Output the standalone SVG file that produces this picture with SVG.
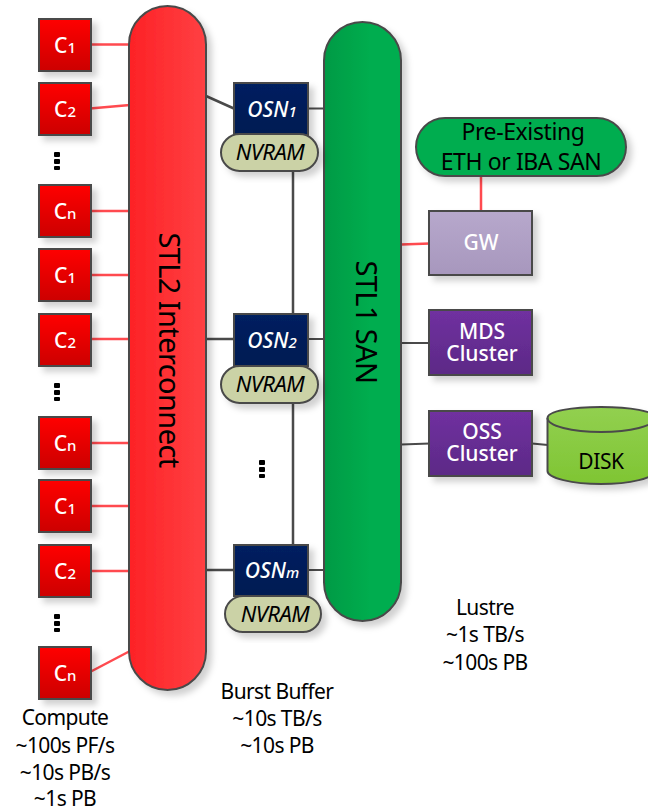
<svg xmlns="http://www.w3.org/2000/svg" width="648" height="808" viewBox="0 0 648 808">
<style>
text{font-family:"Noto Sans","Open Sans","Liberation Sans",sans-serif;text-anchor:middle;fill:#000}
.sh{filter:url(#shadow)}
.box{stroke:#4a4a4a;stroke-width:2}
.w{fill:#fff}
.cl{font-size:21px;fill:#fff;font-weight:500}
.sub{font-size:15px}
.osn{font-size:21px;font-style:italic;fill:#fff;font-weight:500}
.nv{font-size:22px;font-style:italic;letter-spacing:-.5px}
.lab{font-size:21px;letter-spacing:-.6px}
.red{stroke:#ff4a4f;stroke-width:2.5;fill:none}
.gr{stroke:#4a4a4a;stroke-width:2;fill:none}
.gr3{stroke:#4a4a4a;stroke-width:2.5;fill:none}
.cbox{fill:url(#cg)}
.nvb{fill:#cbd2a6}
.pur{fill:url(#pg)}
</style>
<defs>
<filter id="shadow" x="-20%" y="-20%" width="150%" height="150%"><feDropShadow dx="5" dy="5" stdDeviation="3" flood-color="#000" flood-opacity=".18"/></filter>
<linearGradient id="cg" x1="0" y1="0" x2="0" y2="1"><stop offset="0" stop-color="#ff0000"/><stop offset="1" stop-color="#cc0000"/></linearGradient>
<linearGradient id="rg" x1="0" y1="0" x2="1" y2="0"><stop offset="0" stop-color="#fd2226"/><stop offset="1" stop-color="#ff4043"/></linearGradient>
<linearGradient id="gg" x1="0" y1="0" x2="1" y2="0"><stop offset="0" stop-color="#009a44"/><stop offset=".6" stop-color="#00ad4f"/><stop offset="1" stop-color="#00ad4f"/></linearGradient>
<linearGradient id="ng" x1="0" y1="0" x2="0" y2="1"><stop offset="0" stop-color="#002060"/><stop offset="1" stop-color="#001a52"/></linearGradient>
<linearGradient id="pg" x1="0" y1="0" x2="0" y2="1"><stop offset="0" stop-color="#7030a0"/><stop offset="1" stop-color="#5c2a86"/></linearGradient>
<linearGradient id="gw" x1="0" y1="0" x2="0" y2="1"><stop offset="0" stop-color="#b7a8cc"/><stop offset="1" stop-color="#a797bd"/></linearGradient>
<linearGradient id="dg" x1="0" y1="0" x2="0" y2="1"><stop offset="0" stop-color="#92d050"/><stop offset="1" stop-color="#7fc533"/></linearGradient>
</defs>

<g id="connectors">
<path class="red" d="M90 44.500H130M90 108.500L130 105M90 211H130M90 275H130M90 339H130M90 443H130M90 506H130M90 571H130M90 672L130 651"/>
<path class="gr3" d="M206 96L235 109M206 339H235M206 570H235"/>
<path class="gr" d="M308 108.500H325M308 339H325M308 570H325M401 343H430M401 444.500L430 443.500M532 443.500L548 445"/>
<path class="gr3" d="M293 171V315M293 403V545"/>
<path class="red" d="M401 244.500L430 243.500M481 176V212"/>
</g>

<g id="stl2"><rect class="box sh" x="129" y="6" width="77" height="684" rx="38.500" fill="url(#rg)"/>
<text transform="translate(168 350) rotate(90)" y="9" font-size="29" letter-spacing="-.6">STL2 Interconnect</text></g>
<g id="stl1"><rect class="box sh" x="324" y="22" width="77" height="599" rx="38.500" fill="url(#gg)"/>
<text transform="translate(365 322) rotate(90)" y="9" font-size="29" letter-spacing="-.6">STL1 SAN</text></g>

<g id="c1a"><rect class="box sh cbox" x="39" y="19" width="52" height="52"/><text class="cl" x="65" y="53">C<tspan class="sub">1</tspan></text></g>
<g id="c2a"><rect class="box sh cbox" x="39" y="83" width="52" height="52"/><text class="cl" x="65" y="117">C<tspan class="sub">2</tspan></text></g>
<g id="cna"><rect class="box sh cbox" x="39" y="185" width="52" height="52"/><text class="cl" x="65" y="219">C<tspan class="sub">n</tspan></text></g>
<g id="c1b"><rect class="box sh cbox" x="39" y="249" width="52" height="52"/><text class="cl" x="65" y="283">C<tspan class="sub">1</tspan></text></g>
<g id="c2b"><rect class="box sh cbox" x="39" y="314" width="52" height="52"/><text class="cl" x="65" y="348">C<tspan class="sub">2</tspan></text></g>
<g id="cnb"><rect class="box sh cbox" x="39" y="417" width="52" height="52"/><text class="cl" x="65" y="451">C<tspan class="sub">n</tspan></text></g>
<g id="c1c"><rect class="box sh cbox" x="39" y="480" width="52" height="52"/><text class="cl" x="65" y="514">C<tspan class="sub">1</tspan></text></g>
<g id="c2c"><rect class="box sh cbox" x="39" y="545" width="52" height="52"/><text class="cl" x="65" y="579">C<tspan class="sub">2</tspan></text></g>
<g id="cnc"><rect class="box sh cbox" x="39" y="647" width="52" height="52"/><text class="cl" x="65" y="681">C<tspan class="sub">n</tspan></text></g>

<g id="dots" fill="#000">
<rect x="54" y="152" width="6" height="5" rx="1"/><rect x="54" y="159" width="6" height="5" rx="1"/><rect x="54" y="166" width="6" height="4" rx="1"/>
<rect x="54" y="383" width="6" height="5" rx="1"/><rect x="54" y="390" width="6" height="5" rx="1"/><rect x="54" y="397" width="6" height="4" rx="1"/>
<rect x="54" y="614" width="6" height="5" rx="1"/><rect x="54" y="621" width="6" height="5" rx="1"/><rect x="54" y="628" width="6" height="4" rx="1"/>
<rect x="259" y="460" width="6" height="5" rx="1"/><rect x="259" y="467" width="6" height="5" rx="1"/><rect x="259" y="474" width="6" height="4" rx="1"/>
</g>

<g id="osn1"><rect class="box sh" x="234" y="83" width="74" height="52" fill="url(#ng)"/><text class="osn" x="272" y="117">OSN<tspan class="sub">1</tspan></text></g>
<g id="nvram1"><rect class="box sh nvb" x="221" y="134" width="97" height="37" rx="18.500"/><text class="nv" x="270" y="160">NVRAM</text></g>
<g id="osn2"><rect class="box sh" x="234" y="314" width="74" height="52" fill="url(#ng)"/><text class="osn" x="272" y="348">OSN<tspan class="sub">2</tspan></text></g>
<g id="nvram2"><rect class="box sh nvb" x="221" y="366" width="97" height="37" rx="18.500"/><text class="nv" x="270" y="392">NVRAM</text></g>
<g id="osnm"><rect class="box sh" x="234" y="545" width="74" height="51" fill="url(#ng)"/><text class="osn" x="272" y="578">OSN<tspan class="sub">m</tspan></text></g>
<g id="nvramm"><rect class="box sh nvb" x="225" y="596" width="96" height="36" rx="18"/><text class="nv" x="275" y="622">NVRAM</text></g>

<g id="preexisting"><rect class="box sh" x="416" y="118" width="210" height="58" rx="29" fill="#00ad4f"/><text x="523" y="140" font-size="23" letter-spacing="-.4">Pre-Existing</text><text x="521" y="170" font-size="23" letter-spacing="-.4">ETH or IBA SAN</text></g>
<g id="gw"><rect class="box sh" x="429" y="211" width="103" height="64" fill="url(#gw)"/><text class="cl" x="481" y="250">GW</text></g>
<g id="mds"><rect class="box sh pur" x="429" y="310" width="103" height="65"/><text class="cl" x="482" y="339">MDS</text><text class="cl" x="482" y="361">Cluster</text></g>
<g id="oss"><rect class="box sh pur" x="429" y="411" width="103" height="65"/><text class="cl" x="482" y="439">OSS</text><text class="cl" x="482" y="461">Cluster</text></g>
<g id="disk"><path class="box sh" d="M547.500 418V471C547.500 478 572 484 601 484S655 478 655 471V418C655 411 630 407 601 407S547.500 411 547.500 418Z" fill="url(#dg)"/><path class="box" fill="none" d="M547.500 418C547.500 426 572 432 601 432S655 426 655 418" /><text x="601" y="469" font-size="21" letter-spacing="-.4">DISK</text></g>

<g id="labels">
<text class="lab" x="65" y="725">Compute</text><text class="lab" x="65" y="753">~100s PF/s</text><text class="lab" x="65" y="780">~10s PB/s</text><text class="lab" x="65" y="806">~1s PB</text>
<text class="lab" x="277" y="699">Burst Buffer</text><text class="lab" x="277" y="726">~10s TB/s</text><text class="lab" x="277" y="753">~10s PB</text>
<text class="lab" x="485" y="615">Lustre</text><text class="lab" x="485" y="642">~1s TB/s</text><text class="lab" x="485" y="670">~100s PB</text>
</g>
</svg>
